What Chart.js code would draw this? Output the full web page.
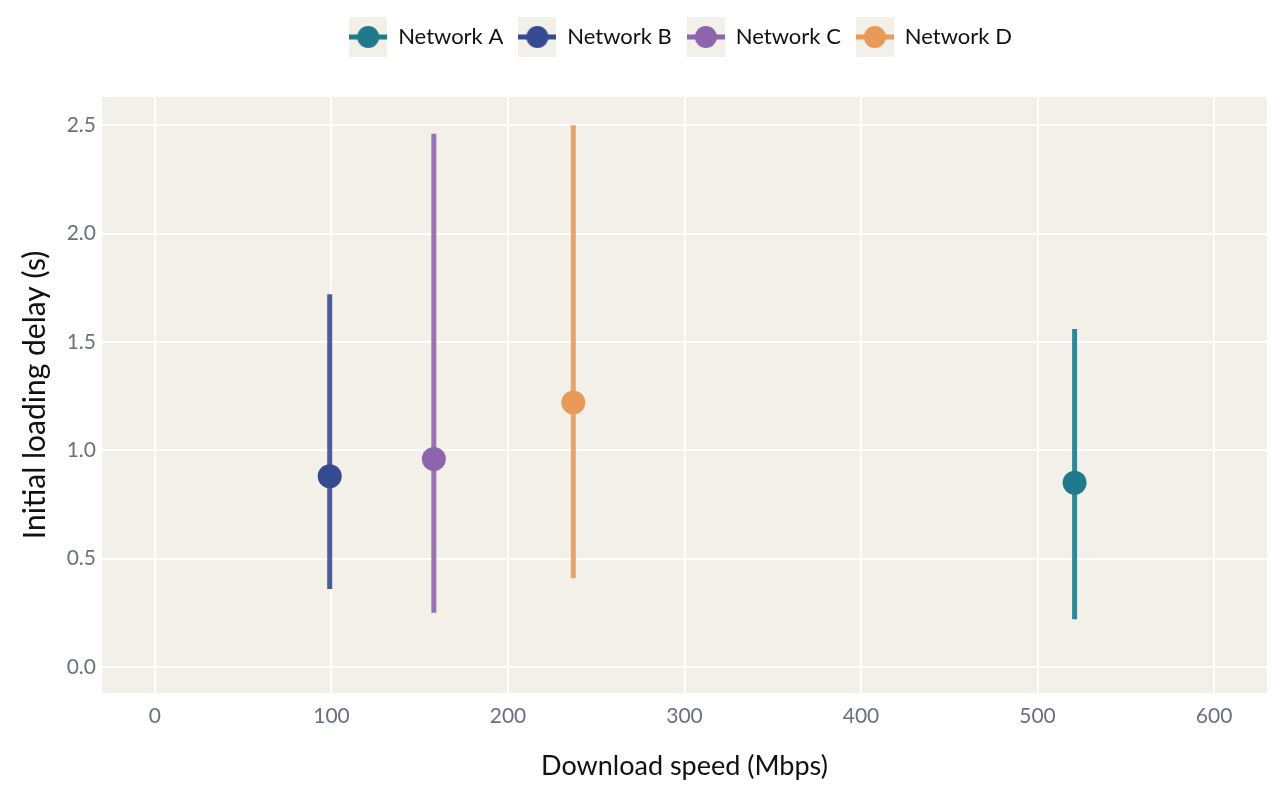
<!DOCTYPE html>
<html>
<head>
<meta charset="utf-8">
<script src="https://cdn.jsdelivr.net/npm/chart.js@4.4.1/dist/chart.umd.min.js"></script>
<style>
  html, body { margin: 0; padding: 0; background: #ffffff; }
  #wrap { width: 1280px; height: 800px; position: relative; }
</style>
</head>
<body>
<div id="wrap"><canvas id="c" width="1280" height="800"></canvas></div>
<script>
const networks = ["Network A", "Network B", "Network C", "Network D"];
const downloadSpeed = [521, 99, 158, 237];
const delayMean = [0.85, 0.88, 0.96, 1.22];
const delayLow = [0.22, 0.36, 0.25, 0.41];
const delayHigh = [1.56, 1.72, 2.46, 2.50];
const colors = ["#1f7a8c", "#354a91", "#8e65ad", "#e99a58"];
const xTickValues = [0, 100, 200, 300, 400, 500, 600];
const yTickValues = [0, 0.5, 1.0, 1.5, 2.0, 2.5];

const FONT = "Lato, 'Noto Sans', sans-serif";
const PLOT_BG = "#f3f0ea";

function legendIcon(color) {
  const c = document.createElement("canvas");
  c.width = 38; c.height = 40;
  const g = c.getContext("2d");
  g.fillStyle = PLOT_BG;
  g.fillRect(0, 0, 38, 40);
  g.strokeStyle = color;
  g.lineWidth = 5;
  g.beginPath(); g.moveTo(0, 20); g.lineTo(38, 20); g.stroke();
  g.fillStyle = color;
  g.beginPath(); g.arc(19, 20, 11, 0, Math.PI * 2); g.fill();
  return c;
}
const icons = colors.map(legendIcon);

const pointSets = networks.map((n, i) => ({
  label: n,
  data: [{ x: downloadSpeed[i], y: delayMean[i] }],
  backgroundColor: colors[i],
  borderColor: colors[i],
  pointRadius: 12,
  pointHoverRadius: 12,
  borderWidth: 0,
  showLine: false
}));
const barSets = networks.map((n, i) => ({
  label: n + " range",
  data: [{ x: downloadSpeed[i], y: delayLow[i] }, { x: downloadSpeed[i], y: delayHigh[i] }],
  borderColor: colors[i] + "e6",
  borderWidth: 5,
  pointRadius: 0,
  showLine: true,
  borderCapStyle: "butt"
}));

const bgPlugin = {
  id: "plotbg",
  beforeDraw(chart) {
    const { ctx, chartArea: a } = chart;
    ctx.save();
    ctx.fillStyle = PLOT_BG;
    ctx.fillRect(a.left, a.top, a.right - a.left, a.bottom - a.top);
    ctx.restore();
  }
};
const legendPlugin = {
  id: "legendFix",
  afterInit(chart) {
    const lg = chart.legend;
    if (!lg) return;
    const orig = lg.fit.bind(lg);
    lg.fit = function () { orig(); this.height = 86; };
  },
  afterLayout(chart) {
    const lg = chart.legend;
    if (!lg) return;
    lg.left = chart.chartArea.left - 4;
    lg.right = chart.chartArea.right - 4;
    lg.width = lg.right - lg.left;
  }
};

new Chart(document.getElementById("c"), {
  type: "scatter",
  data: { datasets: [...pointSets, ...barSets] },
  plugins: [bgPlugin, legendPlugin],
  options: {
    responsive: false,
    animation: false,
    layout: { padding: { left: 0, right: 13, top: 11, bottom: 0 } },
    plugins: {
      tooltip: { enabled: false },
      legend: {
        position: "top",
        align: "center",
        labels: {
          usePointStyle: true,
          pointStyleWidth: 38,
          boxHeight: 22,
          padding: 15,
          color: "#111111",
          font: { family: FONT, size: 22 },
          generateLabels(chart) {
            return networks.map((n, i) => ({
              text: n,
              pointStyle: icons[i],
              fillStyle: colors[i],
              strokeStyle: colors[i],
              lineWidth: 0,
              hidden: false,
              datasetIndex: i,
              fontColor: "#111111"
            }));
          }
        }
      }
    },
    scales: {
      x: {
        type: "linear",
        min: -30,
        max: 630,
        afterBuildTicks(s) { s.ticks = xTickValues.map(v => ({ value: v })); },
        afterFit(s) { s.height = 107; },
        grid: { color: "#ffffff", lineWidth: 2, drawTicks: false },
        border: { display: false },
        ticks: {
          padding: 11,
          color: "#6b7080",
          font: { family: FONT, size: 21 },
          callback: v => String(v)
        },
        title: {
          display: true,
          text: "Download speed (Mbps)",
          color: "#111111",
          font: { family: FONT, size: 27 },
          padding: { top: 0, bottom: 18 }
        }
      },
      y: {
        type: "linear",
        min: -0.12,
        max: 2.63,
        afterBuildTicks(s) { s.ticks = yTickValues.map(v => ({ value: v })); },
        afterFit(s) { s.width = 102; },
        grid: { color: "#ffffff", lineWidth: 2, drawTicks: false },
        border: { display: false },
        ticks: {
          padding: 6,
          color: "#6b7080",
          font: { family: FONT, size: 21 },
          callback: v => Number(v).toFixed(1)
        },
        title: {
          display: true,
          text: "Initial loading delay (s)",
          color: "#111111",
          font: { family: FONT, size: 30 },
          padding: { top: 17, bottom: 0 }
        }
      }
    }
  }
});
</script>
</body>
</html>
